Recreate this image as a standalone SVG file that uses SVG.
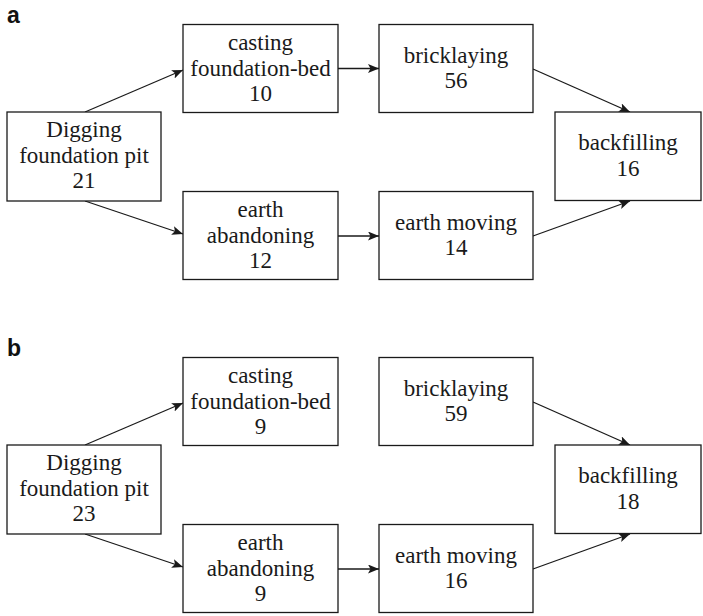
<svg xmlns="http://www.w3.org/2000/svg" width="703" height="616" viewBox="0 0 703 616">
<defs>
<style>
.box{fill:#fff;stroke:#1a1a1a;stroke-width:1.3}
.t{font-family:"Liberation Serif","Times New Roman",serif;font-size:23px;fill:#1a1a1a;text-anchor:middle}
.lbl{font-family:"Liberation Sans",Arial,sans-serif;font-size:23px;font-weight:bold;fill:#111}
.c{stroke:#1a1a1a;stroke-width:1.3;fill:none;marker-end:url(#ah)}
</style>
<marker id="ah" markerUnits="userSpaceOnUse" markerWidth="12" markerHeight="10" refX="11" refY="4.5" orient="auto">
<path d="M0,0 L11,4.5 L0,9 L2.5,4.5 z" fill="#1a1a1a"/>
</marker>
</defs>
<text class="lbl" x="7" y="23">a</text>
<text class="lbl" x="7" y="356">b</text>
<g id="connectors">
<line class="c" x1="85" y1="112" x2="183" y2="70"/>
<line class="c" x1="85" y1="201" x2="183" y2="234"/>
<line class="c" x1="338" y1="68.5" x2="379" y2="68.5"/>
<line class="c" x1="338" y1="236" x2="379" y2="236"/>
<line class="c" x1="533" y1="69" x2="630" y2="112"/>
<line class="c" x1="533" y1="236" x2="630" y2="201"/>
<line class="c" x1="85" y1="445" x2="183" y2="403"/>
<line class="c" x1="85" y1="534" x2="183" y2="567"/>
<line class="c" x1="338" y1="569" x2="379" y2="569"/>
<line class="c" x1="533" y1="402" x2="630" y2="445"/>
<line class="c" x1="533" y1="569" x2="630" y2="534"/>
</g>
<g id="a_dig"><rect class="box" x="7" y="112" width="154" height="89"/>
<text class="t" x="84" y="137">Digging</text><text class="t" x="84" y="162.5">foundation pit</text><text class="t" x="84" y="188">21</text></g>
<g id="a_cast"><rect class="box" x="183" y="24.5" width="155" height="88"/>
<text class="t" x="260.5" y="50">casting</text><text class="t" x="260.5" y="75.5">foundation-bed</text><text class="t" x="260.5" y="101">10</text></g>
<g id="a_earth"><rect class="box" x="183" y="191.5" width="155" height="88"/>
<text class="t" x="260.5" y="217">earth</text><text class="t" x="260.5" y="242.5">abandoning</text><text class="t" x="260.5" y="268">12</text></g>
<g id="a_brick"><rect class="box" x="379" y="24.5" width="154" height="88"/>
<text class="t" x="456" y="62.5">bricklaying</text><text class="t" x="456" y="88">56</text></g>
<g id="a_move"><rect class="box" x="379" y="191.5" width="154" height="88"/>
<text class="t" x="456" y="229.5">earth moving</text><text class="t" x="456" y="255">14</text></g>
<g id="a_back"><rect class="box" x="555" y="112" width="146" height="88.5"/>
<text class="t" x="628" y="150">backfilling</text><text class="t" x="628" y="175.5">16</text></g>
<g id="b_dig"><rect class="box" x="7" y="445" width="154" height="89"/>
<text class="t" x="84" y="470">Digging</text><text class="t" x="84" y="495.5">foundation pit</text><text class="t" x="84" y="521">23</text></g>
<g id="b_cast"><rect class="box" x="183" y="357.5" width="155" height="88"/>
<text class="t" x="260.5" y="383">casting</text><text class="t" x="260.5" y="408.5">foundation-bed</text><text class="t" x="260.5" y="434">9</text></g>
<g id="b_earth"><rect class="box" x="183" y="524.5" width="155" height="88"/>
<text class="t" x="260.5" y="550">earth</text><text class="t" x="260.5" y="575.5">abandoning</text><text class="t" x="260.5" y="601">9</text></g>
<g id="b_brick"><rect class="box" x="379" y="357.5" width="154" height="88"/>
<text class="t" x="456" y="395.5">bricklaying</text><text class="t" x="456" y="421">59</text></g>
<g id="b_move"><rect class="box" x="379" y="524.5" width="154" height="88"/>
<text class="t" x="456" y="562.5">earth moving</text><text class="t" x="456" y="588">16</text></g>
<g id="b_back"><rect class="box" x="555" y="445" width="146" height="88.5"/>
<text class="t" x="628" y="483">backfilling</text><text class="t" x="628" y="508.5">18</text></g>
</svg>
